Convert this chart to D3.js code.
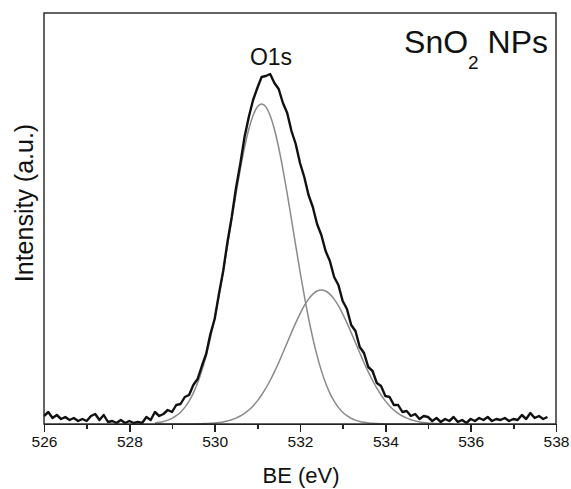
<!DOCTYPE html>
<html lang="en">
  <head>
    <meta charset="utf-8">
    <title>SnO2 NPs O1s XPS</title>
    <script type="text/javascript" src="https://cdn.jsdelivr.net/npm/d3@7/dist/d3.min.js"></script>
    <style>
      body { margin: 0; background: #fff; overflow: hidden; }
      text { font-family: "Liberation Sans", Arial, Helvetica, sans-serif; fill: #111; }
      .axis path, .axis line { stroke: #222; stroke-width: 1.4; shape-rendering: crispEdges; }
      .axis text { font-size: 15.5px; fill: #111; }
    </style>
  </head>
  <body>
    <script type="text/javascript">

    //Size of the page and plot frame
    var w = 571;
    var h = 489;
    var plotLeft = 44, plotRight = 556, plotTop = 13, plotBottom = 424;

    //Tick labels on the BE axis
    var majorTicks = [526, 528, 530, 532, 534, 536, 538];
    var minorTicks = [527, 529, 531, 533, 535, 537];

    //Measured spectrum (BE in eV, intensity in a.u.)
    var rawBE = [
      526.0, 526.1, 526.2, 526.3, 526.4, 526.5, 526.6, 526.7, 526.8, 526.9,
      527.0, 527.1, 527.2, 527.3, 527.4, 527.5, 527.6, 527.7, 527.8, 527.9,
      528.0, 528.1, 528.2, 528.3, 528.4, 528.5, 528.6, 528.7, 528.8, 528.9,
      529.0, 529.1, 529.2, 529.3, 529.4, 529.5, 529.6, 529.7, 529.8, 529.9,
      530.0, 530.1, 530.2, 530.3, 530.4, 530.5, 530.6, 530.7, 530.8, 530.9,
      531.0, 531.1, 531.2, 531.3, 531.4, 531.5, 531.6, 531.7, 531.8, 531.9,
      532.0, 532.1, 532.2, 532.3, 532.4, 532.5, 532.6, 532.7, 532.8, 532.9,
      533.0, 533.1, 533.2, 533.3, 533.4, 533.5, 533.6, 533.7, 533.8, 533.9,
      534.0, 534.1, 534.2, 534.3, 534.4, 534.5, 534.6, 534.7, 534.8, 534.9,
      535.0, 535.1, 535.2, 535.3, 535.4, 535.5, 535.6, 535.7, 535.8, 535.9,
      536.0, 536.1, 536.2, 536.3, 536.4, 536.5, 536.6, 536.7, 536.8, 536.9,
      537.0, 537.1, 537.2, 537.3, 537.4, 537.5, 537.6, 537.7, 537.8
    ];
    var rawIntensity = [
      8, 12, 6, 9, 5, 7, 4, 6, 3, 5,
      3, 8, 10, 4, 9, 2, 3, 1, 4, 1,
      3, 1, 2, 1, 7, 4, 12, 8, 10, 14,
      12, 19, 20, 27, 29, 39, 45, 58, 70, 90,
      105, 130, 153, 182, 207, 236, 260, 287, 307, 324,
      336, 347, 348, 350, 341, 335, 321, 311, 293, 280,
      261, 247, 229, 217, 200, 189, 173, 163, 147, 139,
      123, 115, 99, 93, 77, 71, 57, 53, 41, 38,
      28, 27, 19, 19, 12, 13, 8, 10, 5, 8,
      7, 3, 6, 2, 5, 3, 7, 2, 4, 1,
      5, 3, 6, 4, 7, 3, 5, 4, 6, 3,
      5, 4, 9, 5, 11, 6, 8, 5, 7
    ];

    //Fitted components
    var fitBE = [
      528.6, 528.7, 528.8, 528.9, 529.0, 529.1, 529.2, 529.3, 529.4, 529.5,
      529.6, 529.7, 529.8, 529.9, 530.0, 530.1, 530.2, 530.3, 530.4, 530.5,
      530.6, 530.7, 530.8, 530.9, 531.0, 531.1, 531.2, 531.3, 531.4, 531.5,
      531.6, 531.7, 531.8, 531.9, 532.0, 532.1, 532.2, 532.3, 532.4, 532.5,
      532.6, 532.7, 532.8, 532.9, 533.0, 533.1, 533.2, 533.3, 533.4, 533.5,
      533.6, 533.7, 533.8, 533.9, 534.0, 534.1, 534.2, 534.3, 534.4, 534.5,
      534.6, 534.7, 534.8, 534.9, 535.0, 535.1, 535.2, 535.3, 535.4, 535.5,
      535.6
    ];
    var peak1 = [
      1.1, 1.7, 2.6, 3.9, 5.7, 8.3, 11.8, 16.6, 22.9, 30.9,
      41.0, 53.4, 68.4, 85.9, 106.0, 128.4, 152.7, 178.4, 204.6, 230.4,
      254.7, 276.5, 294.8, 308.5, 317.1, 320.0, 317.1, 308.5, 294.8, 276.5,
      254.7, 230.4, 204.6, 178.4, 152.7, 128.4, 106.0, 85.9, 68.4, 53.4,
      41.0, 30.9, 22.9, 16.6, 11.8, 8.3, 5.7, 3.9, 2.6, 1.7,
      1.1, 0.7, 0.4, 0.2, 0.1, 0, 0, 0, 0, 0,
      0, 0, 0, 0, 0, 0, 0, 0, 0, 0,
      0
    ];
    var peak2 = [
      0, 0, 0, 0, 0, 0, 0, 0, 0.1, 0.1,
      0.2, 0.3, 0.5, 0.7, 1.0, 1.5, 2.1, 3.1, 4.3, 5.9,
      8.0, 10.7, 14.0, 18.1, 23.1, 29.0, 35.8, 43.5, 52.1, 61.3,
      71.2, 81.3, 91.4, 101.1, 110.2, 118.3, 124.9, 129.9, 133.0, 134.0,
      133.0, 129.9, 124.9, 118.3, 110.2, 101.1, 91.4, 81.3, 71.2, 61.3,
      52.1, 43.5, 35.8, 29.0, 23.1, 18.1, 14.0, 10.7, 8.0, 5.9,
      4.3, 3.1, 2.1, 1.5, 1.0, 0.7, 0.5, 0.3, 0.2, 0.1,
      0.1
    ];

    //Scales
    var xScale = d3.scaleLinear().domain([526, 538]).range([plotLeft, plotRight]);
    var yScale = d3.scaleLinear().domain([0, 411]).range([plotBottom, plotTop]);

    var svg = d3.select("body").append("svg")
      .attr("width", w)
      .attr("height", h)
      .style("display", "block");

    //Line generators
    var rawLine = d3.line()
      .x(function(d, i) { return xScale(rawBE[i]); })
      .y(function(d) { return yScale(d); });
    var fitLine = d3.line()
      .curve(d3.curveMonotoneX)
      .x(function(d, i) { return xScale(fitBE[i]); })
      .y(function(d) { return yScale(d); });

    //Fit components (grey)
    [peak1, peak2].forEach(function(p) {
      svg.append("path")
        .datum(p)
        .attr("d", fitLine)
        .attr("fill", "none")
        .attr("stroke", "#8a8a8a")
        .attr("stroke-width", 1.5);
    });

    //Raw spectrum (black)
    svg.append("path")
      .datum(rawIntensity)
      .attr("d", rawLine)
      .attr("fill", "none")
      .attr("stroke", "#111")
      .attr("stroke-width", 2.4)
      .attr("stroke-linejoin", "round");

    //Frame
    svg.append("rect")
      .attr("x", plotLeft)
      .attr("y", plotTop)
      .attr("width", plotRight - plotLeft)
      .attr("height", plotBottom - plotTop)
      .attr("fill", "none")
      .attr("stroke", "#222")
      .attr("stroke-width", 1.4);

    //X axis, major and minor ticks
    svg.append("g")
      .attr("class", "x axis")
      .attr("transform", "translate(0," + plotBottom + ")")
      .call(d3.axisBottom(xScale).tickValues(majorTicks).tickFormat(d3.format("d"))
        .tickSizeInner(8).tickSizeOuter(0).tickPadding(4));

    svg.append("g")
      .attr("class", "axis")
      .attr("transform", "translate(0," + plotBottom + ")")
      .call(d3.axisBottom(xScale).tickValues(minorTicks).tickFormat("")
        .tickSizeInner(5).tickSizeOuter(0))
      .select(".domain").remove();

    //Axis titles
    svg.append("text")
      .attr("x", 301)
      .attr("y", 483)
      .attr("text-anchor", "middle")
      .style("font-size", "22px")
      .text("BE (eV)");

    svg.append("text")
      .attr("transform", "translate(33,203) rotate(-90)")
      .attr("text-anchor", "middle")
      .style("font-size", "25px")
      .text("Intensity (a.u.)");

    //Peak label and sample name
    svg.append("text")
      .attr("x", 271)
      .attr("y", 65)
      .attr("text-anchor", "middle")
      .style("font-size", "23px")
      .text("O1s");

    var sample = svg.append("text")
      .attr("x", 548)
      .attr("y", 53)
      .attr("text-anchor", "end")
      .style("font-size", "32px");
    sample.append("tspan").text("SnO");
    sample.append("tspan").attr("dy", 16).style("font-size", "19px").text("2");
    sample.append("tspan").attr("dy", -16).text(" NPs");

    </script>
  </body>
</html>
